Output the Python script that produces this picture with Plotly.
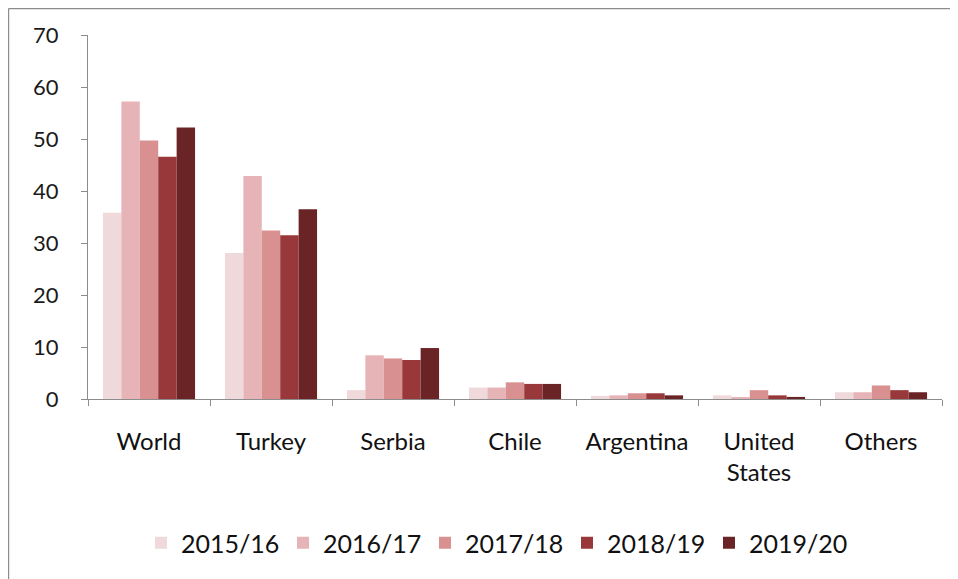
import plotly.graph_objects as go

categories = ["World", "Turkey", "Serbia", "Chile", "Argentina", "United<br>States", "Others"]
seasons = ["2015/16", "2016/17", "2017/18", "2018/19", "2019/20"]
v_2015_16 = [35.8, 28.1, 1.7, 2.2, 0.6, 0.7, 1.3]
v_2016_17 = [57.2, 42.9, 8.4, 2.2, 0.7, 0.2, 1.3]
v_2017_18 = [49.7, 32.4, 7.8, 3.2, 1.1, 1.7, 2.6]
v_2018_19 = [46.6, 31.5, 7.5, 2.9, 1.1, 0.7, 1.7]
v_2019_20 = [52.2, 36.5, 9.8, 2.9, 0.7, 0.4, 1.3]
series = [v_2015_16, v_2016_17, v_2017_18, v_2018_19, v_2019_20]
colors = ["#EFD9DB", "#E6B4B7", "#D99090", "#98383A", "#6A2426"]

# page has an 8px body margin, so the figure is drawn 8px smaller and shifted
OFF = 8
W, H = 958 - OFF, 579 - OFF
ml, mr, mt, mb = 88 - OFF, 16, 35 - OFF, 180

fig = go.Figure()
for name, vals, col in zip(seasons, series, colors):
    fig.add_trace(go.Bar(name=name, x=categories, y=vals, marker=dict(color=col, line=dict(width=0))))

pw = W - ml - mr
ph = H - mt - mb
# frame (left and top edges of the outer border)
x0 = (0.6 - ml) / pw
y1 = (ph + mt - 0.6) / ph
fig.add_shape(type="line", xref="paper", yref="paper", x0=x0, x1=x0, y0=-(mb + 20) / ph, y1=y1,
              line=dict(color="#8c8c8c", width=1.2))
fig.add_shape(type="line", xref="paper", yref="paper", x0=x0, x1=(W + 20 - ml) / pw, y0=y1, y1=y1,
              line=dict(color="#8c8c8c", width=1.2))

fig.update_layout(
    width=W, height=H,
    margin=dict(l=ml, r=mr, t=mt, b=mb, autoexpand=False),
    barmode="group", bargap=0.245, bargroupgap=0,
    plot_bgcolor="white", paper_bgcolor="white",
    font=dict(family="Lato", color="#111"),
    showlegend=True,
    legend=dict(orientation="h", x=(133 - ml) / pw, xanchor="left", y=-144 / ph, yanchor="middle",
                font=dict(size=25, color="#111"), entrywidth=97, entrywidthmode="pixels",
                traceorder="normal"),
    xaxis=dict(showline=True, linecolor="#8c8c8c", linewidth=1.2, ticks="outside", ticklen=6,
               tickcolor="#8c8c8c", tickson="boundaries", tickfont=dict(size=24, color="#111"),
               ticklabelstandoff=21, showgrid=False, automargin=False),
    yaxis=dict(range=[0, 70], dtick=10, showline=True, linecolor="#8c8c8c", linewidth=1.2,
               ticks="outside", ticklen=6, tickcolor="#8c8c8c", showgrid=False, zeroline=False,
               tickfont=dict(size=22, color="#1a1a1a"), ticklabelstandoff=18, automargin=False),
)
fig.write_html("out.html")
